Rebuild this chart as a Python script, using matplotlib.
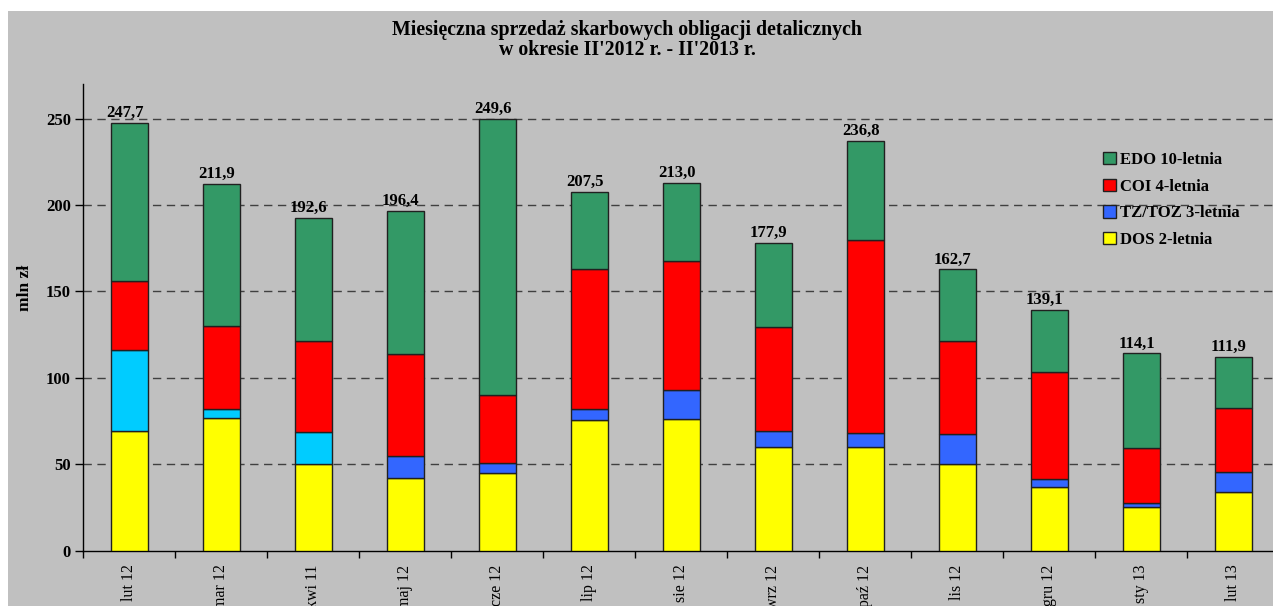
import matplotlib
matplotlib.use("Agg")
import matplotlib.pyplot as plt
from matplotlib.patches import Rectangle, Patch
import numpy as np

plt.rcParams['font.family'] = ['Liberation Serif', 'DejaVu Serif']

months = ["lut 12", "mar 12", "kwi 11", "maj 12", "cze 12", "lip 12", "sie 12",
          "wrz 12", "paź 12", "lis 12", "gru 12", "sty 13", "lut 13"]
dos = [69.3, 76.8, 50.0, 42.3, 44.8, 75.5, 76.1, 60.2, 59.9, 50.4, 36.9, 25.1, 33.8]
tz = [46.7, 5.1, 18.6, 12.7, 6.0, 6.6, 16.8, 8.9, 8.1, 17.0, 4.6, 2.7, 11.8]
coi = [39.8, 48.2, 53.0, 58.9, 39.4, 81.0, 74.5, 60.4, 111.5, 54.0, 61.8, 31.5, 37.0]
totals = [247.7, 211.9, 192.6, 196.4, 249.6, 207.5, 213.0, 177.9, 236.8, 162.7, 139.1, 114.1, 111.9]
edo = [round(t - d - z - c, 1) for t, d, z, c in zip(totals, dos, tz, coi)]
total_labels = ["247,7", "211,9", "192,6", "196,4", "249,6", "207,5", "213,0",
                "177,9", "236,8", "162,7", "139,1", "114,1", "111,9"]
series_names = ["EDO 10-letnia", "COI 4-letnia", "TZ/TOZ 3-letnia", "DOS 2-letnia"]

c_edo = "#339966"
c_coi = "#FF0000"
c_tz = "#3366FF"
c_tz_old = "#00CCFF"
c_dos = "#FFFF00"
bg = "#C0C0C0"

W, H = 1273, 606
fig = plt.figure(figsize=(W / 100, H / 100), dpi=100, facecolor="white")
fig.patches.append(Rectangle((8 / W, 0), 1, (H - 11) / H, transform=fig.transFigure,
                             facecolor=bg, edgecolor="none", zorder=-10))

left, bottom_px, top_px, width_px = 83.3, 550.7, 84.0, 1196.0
ax = fig.add_axes([left / W, (H - bottom_px) / H, width_px / W, (bottom_px - top_px) / H])
ax.set_facecolor("none")

x = np.arange(len(months))
bw = 0.4
ec = "#202020"
lw = 1.0
tz_colors = [c_tz_old if i < 3 else c_tz for i in range(len(months))]
b0 = np.zeros(len(months))
ax.bar(x, dos, bw, bottom=b0, color=c_dos, edgecolor=ec, linewidth=lw, zorder=3)
b1 = b0 + np.array(dos)
ax.bar(x, tz, bw, bottom=b1, color=tz_colors, edgecolor=ec, linewidth=lw, zorder=3)
b2 = b1 + np.array(tz)
ax.bar(x, coi, bw, bottom=b2, color=c_coi, edgecolor=ec, linewidth=lw, zorder=3)
b3 = b2 + np.array(coi)
ax.bar(x, edo, bw, bottom=b3, color=c_edo, edgecolor=ec, linewidth=lw, zorder=3)

for xi, t, lab in zip(x, totals, total_labels):
    ax.text(xi - 0.05, t + 1.2, lab, ha="center", va="bottom", fontsize=12,
            fontweight="bold", zorder=4)

ax.set_xlim(-0.5, len(months) - 0.5)
ax.set_ylim(0, 270)
ax.set_yticks([0, 50, 100, 150, 200, 250])
ax.set_yticklabels(["0", "50", "100", "150", "200", "250"], fontsize=12, fontweight="bold")
ax.tick_params(axis="y", direction="out", length=6, width=1, pad=3)
ax.set_xticks(x)
ax.set_xticklabels(months, rotation=90, fontsize=11.5)
ax.tick_params(axis="x", which="major", length=0, pad=10)
ax.set_xticks(np.arange(-0.5, len(months)), minor=True)
ax.tick_params(axis="x", which="minor", direction="out", length=5, width=1)

for s in ["top", "right"]:
    ax.spines[s].set_visible(False)
ax.spines["left"].set_linewidth(1)
ax.spines["bottom"].set_linewidth(1)

for yv in [50, 100, 150, 200, 250]:
    ax.axhline(yv, color="#404040", linewidth=1, linestyle=(0, (6, 4)), zorder=1)

fig.text(25 / W, 1 - 288 / H, "mln zł", rotation=90, ha="center", va="center",
         fontsize=12.5, fontweight="bold")

handles = [Patch(facecolor=c_edo, edgecolor=ec), Patch(facecolor=c_coi, edgecolor=ec),
           Patch(facecolor=c_tz, edgecolor=ec), Patch(facecolor=c_dos, edgecolor=ec)]
leg = fig.legend(handles, series_names, loc="upper left",
                 bbox_to_anchor=(1088 / W, 1 - 137 / H), frameon=False,
                 prop={"weight": "bold", "size": 12}, handlelength=0.75,
                 handleheight=0.75, handletextpad=0.3, labelspacing=0.64)

fig.text(627 / W, 1 - 30.5 / H, "Miesięczna sprzedaż skarbowych obligacji detalicznych",
         ha="center", va="center", fontsize=14.3, fontweight="bold")
fig.text(627 / W, 1 - 50 / H, "w okresie II'2012 r. - II'2013 r.",
         ha="center", va="center", fontsize=14.3, fontweight="bold")

fig.savefig("out.png", dpi=100, facecolor=fig.get_facecolor())
